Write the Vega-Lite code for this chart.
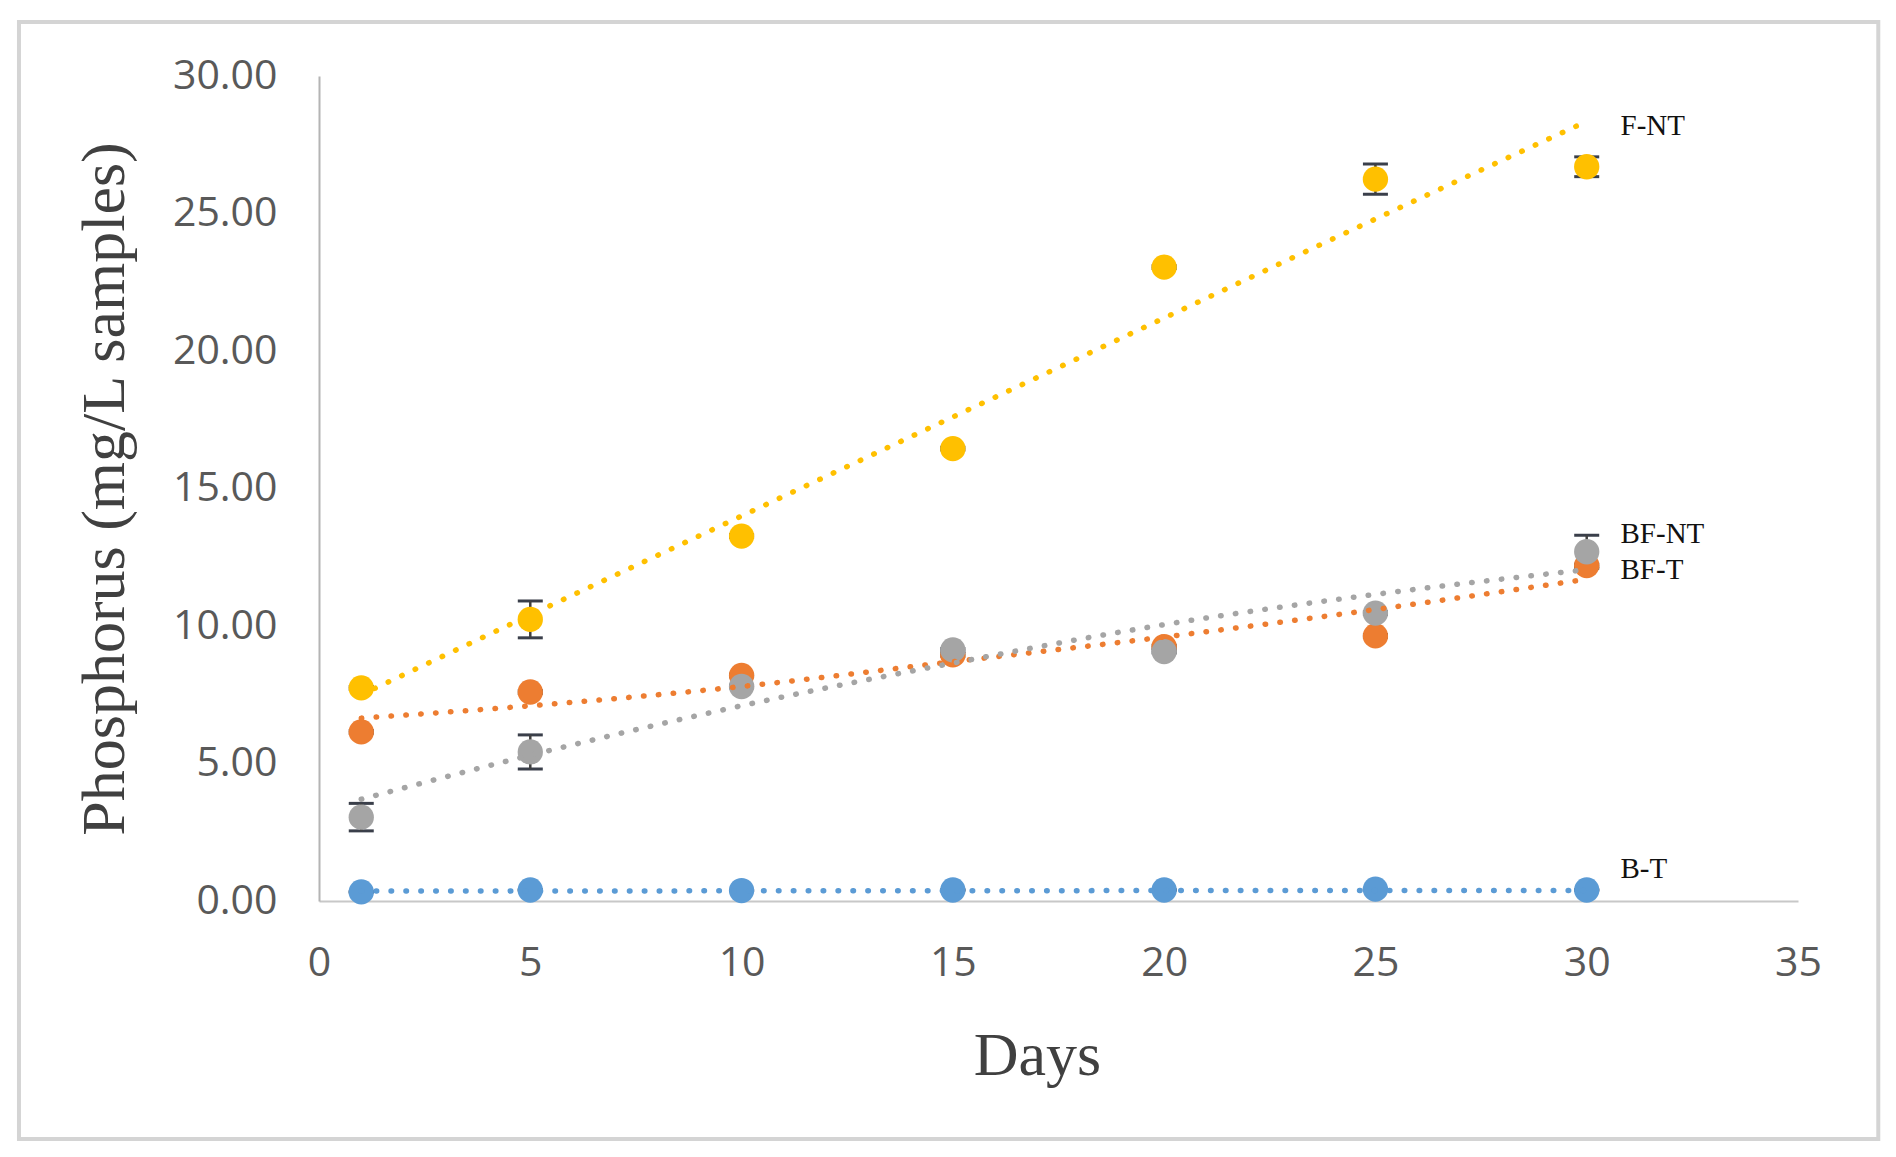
{
  "$schema": "https://vega.github.io/schema/vega-lite/v6.json",
  "autosize": "none",
  "width": 1479,
  "height": 825,
  "padding": {"left": 319, "top": 76, "right": 98, "bottom": 256},
  "background": "white",
  "config": {"view": {"stroke": null}},
  "datasets": {
    "points": [
      {"series": "B-T", "day": 1, "value": 0.33, "err": 0},
      {"series": "B-T", "day": 5, "value": 0.4, "err": 0},
      {"series": "B-T", "day": 10, "value": 0.38, "err": 0},
      {"series": "B-T", "day": 15, "value": 0.4, "err": 0},
      {"series": "B-T", "day": 20, "value": 0.4, "err": 0},
      {"series": "B-T", "day": 25, "value": 0.43, "err": 0},
      {"series": "B-T", "day": 30, "value": 0.4, "err": 0},
      {"series": "F-NT", "day": 1, "value": 7.75, "err": 0.05},
      {"series": "F-NT", "day": 5, "value": 10.24, "err": 0.67},
      {"series": "F-NT", "day": 10, "value": 13.27, "err": 0.05},
      {"series": "F-NT", "day": 15, "value": 16.45, "err": 0.05},
      {"series": "F-NT", "day": 20, "value": 23.05, "err": 0.05},
      {"series": "F-NT", "day": 25, "value": 26.25, "err": 0.55},
      {"series": "F-NT", "day": 30, "value": 26.7, "err": 0.36},
      {"series": "BF-T", "day": 1, "value": 6.15, "err": 0.05},
      {"series": "BF-T", "day": 5, "value": 7.6, "err": 0.05},
      {"series": "BF-T", "day": 10, "value": 8.2, "err": 0.05},
      {"series": "BF-T", "day": 15, "value": 8.95, "err": 0.05},
      {"series": "BF-T", "day": 20, "value": 9.25, "err": 0.05},
      {"series": "BF-T", "day": 25, "value": 9.64, "err": 0.05},
      {"series": "BF-T", "day": 30, "value": 12.2, "err": 0.05},
      {"series": "BF-NT", "day": 1, "value": 3.05, "err": 0.5},
      {"series": "BF-NT", "day": 5, "value": 5.42, "err": 0.62},
      {"series": "BF-NT", "day": 10, "value": 7.8, "err": 0.05},
      {"series": "BF-NT", "day": 15, "value": 9.13, "err": 0.05},
      {"series": "BF-NT", "day": 20, "value": 9.07, "err": 0.05},
      {"series": "BF-NT", "day": 25, "value": 10.47, "err": 0.05},
      {"series": "BF-NT", "day": 30, "value": 12.7, "err": 0.6}
    ],
    "trend": [
      {"series": "B-T", "day": 1, "trend": 0.36},
      {"series": "B-T", "day": 5, "trend": 0.36},
      {"series": "B-T", "day": 10, "trend": 0.37},
      {"series": "B-T", "day": 15, "trend": 0.37},
      {"series": "B-T", "day": 20, "trend": 0.38},
      {"series": "B-T", "day": 25, "trend": 0.38},
      {"series": "B-T", "day": 30, "trend": 0.38},
      {"series": "F-NT", "day": 1, "trend": 7.5},
      {"series": "F-NT", "day": 5, "trend": 10.4},
      {"series": "F-NT", "day": 10, "trend": 14.0},
      {"series": "F-NT", "day": 15, "trend": 17.6},
      {"series": "F-NT", "day": 20, "trend": 21.2},
      {"series": "F-NT", "day": 25, "trend": 24.8},
      {"series": "F-NT", "day": 30, "trend": 28.35},
      {"series": "BF-T", "day": 1, "trend": 6.65},
      {"series": "BF-T", "day": 5, "trend": 7.1},
      {"series": "BF-T", "day": 10, "trend": 7.8},
      {"series": "BF-T", "day": 15, "trend": 8.7},
      {"series": "BF-T", "day": 20, "trend": 9.6},
      {"series": "BF-T", "day": 25, "trend": 10.6},
      {"series": "BF-T", "day": 30, "trend": 11.7},
      {"series": "BF-NT", "day": 1, "trend": 3.7},
      {"series": "BF-NT", "day": 5, "trend": 5.3},
      {"series": "BF-NT", "day": 10, "trend": 7.1},
      {"series": "BF-NT", "day": 15, "trend": 8.65},
      {"series": "BF-NT", "day": 20, "trend": 10.05},
      {"series": "BF-NT", "day": 25, "trend": 11.15},
      {"series": "BF-NT", "day": 30, "trend": 12.05}
    ],
    "labels": [
      {"series": "F-NT", "day": 30.8, "value": 28.2},
      {"series": "BF-NT", "day": 30.8, "value": 13.35},
      {"series": "BF-T", "day": 30.8, "value": 12.05},
      {"series": "B-T", "day": 30.8, "value": 1.15}
    ],
    "frame": [{"x0": -7.1, "x1": 36.9, "y0": -8.65, "y1": 31.96}]
  },
  "layer": [
    {
      "data": {"name": "frame"},
      "mark": {"type": "rect", "fill": null, "stroke": "#d4d4d4", "strokeWidth": 4},
      "encoding": {
        "x": {"field": "x0", "type": "quantitative", "title": "Days", "scale": {"domain": [0, 35], "nice": false}},
        "x2": {"field": "x1"},
        "y": {"field": "y1", "type": "quantitative", "title": "Phosphorus (mg/L samples)", "scale": {"domain": [0, 30], "nice": false}},
        "y2": {"field": "y0"}
      }
    },
    {
      "data": {"name": "points"},
      "mark": {
        "type": "errorbar",
        "color": "#404040",
        "opacity": 1,
        "thickness": 2.5,
        "ticks": {"size": 25, "thickness": 3, "color": "#3a3f4a", "opacity": 1}
      },
      "encoding": {
        "x": {"field": "day", "type": "quantitative", "title": "Days"},
        "y": {"field": "value", "type": "quantitative", "title": "Phosphorus (mg/L samples)"},
        "yError": {"field": "err"}
      }
    },
    {
      "data": {"name": "points"},
      "mark": {"type": "point", "filled": true, "opacity": 1, "size": 640},
      "encoding": {
        "x": {"field": "day", "type": "quantitative", "title": "Days"},
        "y": {"field": "value", "type": "quantitative", "title": "Phosphorus (mg/L samples)"},
        "color": {
          "field": "series", "type": "nominal",
          "scale": {"domain": ["B-T", "F-NT", "BF-T", "BF-NT"], "range": ["#5B9BD5", "#FFC000", "#ED7D31", "#A5A5A5"]},
          "legend": null
        }
      }
    },
    {
      "data": {"name": "trend"},
      "mark": {"type": "line", "strokeWidth": 5.5, "strokeCap": "round", "strokeDash": [0.5, 14.4], "interpolate": "monotone"},
      "encoding": {
        "x": {
          "field": "day", "type": "quantitative", "title": "Days",
          "scale": {"domain": [0, 35], "nice": false},
          "axis": {
            "values": [0, 5, 10, 15, 20, 25, 30, 35],
            "title": "Days",
            "grid": false, "ticks": false, "labelFlush": false,
            "domainColor": "#c8c8c8", "domainWidth": 2,
            "labelFont": "Open Sans", "labelFontSize": 41, "labelColor": "#595959",
            "labelPadding": 42,
            "titleFont": "Liberation Serif", "titleFontSize": 62, "titleFontWeight": "normal",
            "titleColor": "#404040", "titlePadding": 42, "titleX": 718
          }
        },
        "y": {
          "field": "trend", "type": "quantitative", "title": "Phosphorus (mg/L samples)",
          "scale": {"domain": [0, 30], "nice": false},
          "axis": {
            "values": [0, 5, 10, 15, 20, 25, 30],
            "format": ".2f",
            "title": "Phosphorus (mg/L samples)",
            "grid": false, "ticks": false, "labelFlush": false,
            "domainColor": "#b4b4b4", "domainWidth": 2,
            "labelFont": "Open Sans", "labelFontSize": 41, "labelColor": "#595959",
            "labelPadding": 42,
            "titleFont": "Liberation Serif", "titleFontSize": 62, "titleFontWeight": "normal",
            "titleColor": "#404040", "titlePadding": 36
          }
        },
        "color": {"field": "series", "type": "nominal", "legend": null},
        "detail": {"field": "series"}
      }
    },
    {
      "data": {"name": "labels"},
      "mark": {"type": "text", "align": "left", "baseline": "middle", "font": "Liberation Serif", "fontSize": 29, "color": "#111111"},
      "encoding": {
        "x": {"field": "day", "type": "quantitative", "title": "Days"},
        "y": {"field": "value", "type": "quantitative", "title": "Phosphorus (mg/L samples)"},
        "text": {"field": "series"}
      }
    }
  ]
}
